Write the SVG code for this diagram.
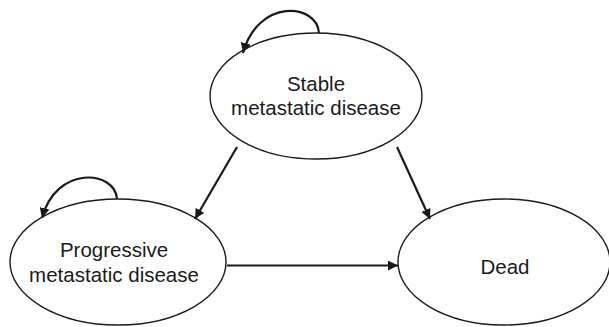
<svg xmlns="http://www.w3.org/2000/svg" width="609" height="327" viewBox="0 0 609 327">
<style>
.node ellipse{fill:#fff;stroke:#1a1a1a;stroke-width:1.4}
.node text{font-family:"Liberation Sans",Arial,sans-serif;font-size:20.5px;fill:#1a1a1a;text-anchor:middle}
.edge{fill:none;stroke:#1a1a1a;stroke-width:2.2}
</style>
<defs>
<marker id="ah" markerUnits="userSpaceOnUse" markerWidth="12" markerHeight="10" refX="10" refY="5" orient="auto">
<path d="M0,0 L10,5 L0,10 z" fill="#1a1a1a"/>
</marker>
</defs>
<g id="stable" class="node">
<ellipse cx="316" cy="96" rx="106" ry="63"/>
<text x="316" y="91">Stable</text>
<text x="316" y="115">metastatic disease</text>
</g>
<g id="progressive" class="node">
<ellipse cx="118" cy="262" rx="108" ry="63"/>
<text x="114" y="257">Progressive</text>
<text x="114" y="282">metastatic disease</text>
</g>
<g id="dead" class="node">
<ellipse cx="504" cy="262" rx="106" ry="63"/>
<text x="505" y="274">Dead</text>
</g>
<g id="connectors">
<path class="edge" d="M319,33 C317,3 258,-2 243,53" marker-end="url(#ah)"/>
<path class="edge" d="M117,199 C115,170 56,165 42,218" marker-end="url(#ah)"/>
<path class="edge" d="M237,147 L195,219" marker-end="url(#ah)"/>
<path class="edge" d="M397,147 L430,219" marker-end="url(#ah)"/>
<path class="edge" d="M227,265.5 L398,265.5" marker-end="url(#ah)"/>
</g>
</svg>
